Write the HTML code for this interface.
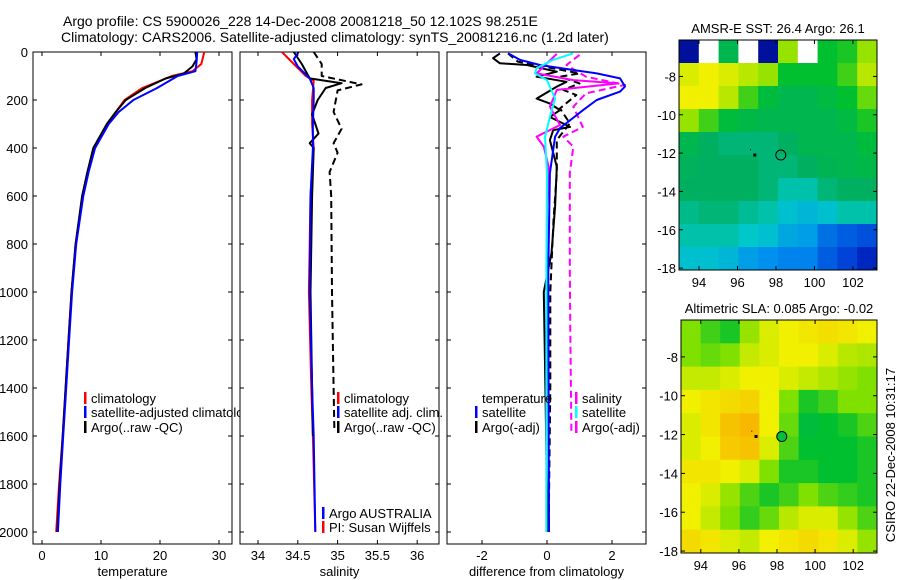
<!DOCTYPE html>
<html><head><meta charset="utf-8"><style>
html,body{margin:0;padding:0;background:#fff;}
svg{display:block;font-family:"Liberation Sans",sans-serif;}
</style></head><body>
<svg id="c" width="900" height="580" viewBox="0 0 900 580" xmlns="http://www.w3.org/2000/svg">
<defs><clipPath id="legclip"><rect x="0" y="0" width="239.5" height="580"/></clipPath></defs>
<text x="63" y="26" font-size="14">Argo profile: CS 5900026_228 14-Dec-2008 20081218_50 12.102S 98.251E</text>
<text x="61" y="42" font-size="14">Climatology: CARS2006. Satellite-adjusted climatology: synTS_20081216.nc (1.2d later)</text>
</svg>
<script>
// ---------- data ----------
const depthTicks=[0,200,400,600,800,1000,1200,1400,1600,1800,2000];
const tTicks=[0,10,20,30];
const sTicks=[34,34.5,35,35.5,36];
const dTicks=[-2,0,2];
const tClimD=[0,50,80,100,150,200,250,300,400,500,600,800,1000,1200,1400,1600,1800,2000];
const tClim=[27.5,27,25.5,22,17,14,12.5,11,8.8,7.8,6.9,5.7,5.0,4.5,4.0,3.5,2.9,2.4];
const tArgoD=[0,30,60,90,110,150,200,250,300,400,500,600,800,1000,1200,1400,1600,1800,2000];
const tArgo=[26.0,26.2,25.5,24,21,17.5,14.2,12.5,11,8.7,7.7,6.8,5.7,5.0,4.5,4.0,3.5,3.0,2.6];
const tSatD=[0,40,80,100,150,200,250,300,400,500,600,800,1000,1200,1400,1600,1800,2000];
const tSat=[26.3,26.2,26,23,19.5,15.5,13,11.3,9,7.9,7.0,5.8,5.1,4.6,4.1,3.6,3.1,2.7];
const sClimD=[0,50,100,120,200,300,400,600,1000,1400,1600,2000];
const sClim=[34.3,34.45,34.6,34.7,34.68,34.68,34.7,34.66,34.64,34.67,34.69,34.72];
const sSatD=[0,30,60,110,150,200,300,400,600,1000,1400,1600,2000];
const sSat=[34.51,34.45,34.5,34.65,34.7,34.7,34.69,34.69,34.66,34.65,34.68,34.7,34.72];
const sArgoD=[0,50,110,130,150,200,260,300,340,380,400,600,1000,1400,1600];
const sArgo=[34.45,34.55,34.65,35.05,34.85,34.75,34.68,34.72,34.76,34.65,34.7,34.68,34.66,34.68,34.69];
const sAdjD=[0,50,100,135,160,250,320,380,420,500,600,1000,1400,1580];
const sAdj=[34.7,34.8,34.8,35.3,35.0,34.95,35.05,34.95,35.0,34.9,34.92,34.93,34.95,34.96];
const dTsatD=[6,33,54,75,89,110,144,165,200,242,275,317,353,408,505,908,1400,2000];
const dTsat=[-1.19,-0.83,-0.22,0.81,1.53,2.25,2.4,2.25,1.53,1.11,0.8,0.4,0.25,0.19,0.09,0.04,0.05,0.06];
const dSsatD=[6,33,68,89,117,194,271,353,505,908,1400,2000];
const dSsat=[0.8,0.18,-0.32,-0.37,0,0.25,0.09,-0.06,0,-0.02,-0.02,-0.02];
const dTargD=[6,26,47,54,82,103,124,144,194,215,242,271,312,326,367,478,644,838,1000,1400,2000];
const dTarg=[-1.45,-1.66,-1.45,-0.62,0.3,-0.32,0.6,0.3,-0.32,0.09,0.4,0.09,0.71,0.19,0.09,0.3,0.25,0.14,-0.1,-0.05,0.02];
const dTadjD=[6,40,89,103,131,158,179,235,297,367,505,700,1000,1400,2000];
const dTadj=[-1.2,-0.9,1.0,0.4,1.0,0.5,0.9,0.4,0.7,0.3,0.3,0.2,0.1,0.1,0.05];
const dSargD=[8,89,117,131,158,228,304,353,394,478,644,1000,1400,2000];
const dSarg=[0.3,-0.32,0.81,2.2,0.3,0.09,0.4,-0.32,-0.1,0.05,0,-0.02,-0.02,-0.02];
const dSadjD=[12,54,103,137,172,228,312,353,394,505,908,1200,1580];
const dSadj=[1.0,0.6,1.2,2.4,1.2,0.81,1.1,0.5,0.81,0.7,0.7,0.72,0.75];
const sstGrid=[
[0.05,-1,0.55,-1,0.05,0.72,-1,0.6,0.62,0.72],
[0.78,0.8,0.78,0.75,0.72,0.6,0.6,0.6,0.65,0.75],
[0.8,0.8,0.75,0.65,0.58,0.55,0.55,0.57,0.6,0.68],
[0.72,0.65,0.58,0.56,0.55,0.55,0.55,0.55,0.57,0.62],
[0.55,0.52,0.5,0.5,0.5,0.52,0.55,0.55,0.55,0.58],
[0.53,0.52,0.52,0.52,0.5,0.5,0.52,0.54,0.55,0.56],
[0.52,0.52,0.52,0.52,0.5,0.45,0.45,0.5,0.52,0.52],
[0.48,0.5,0.5,0.47,0.45,0.4,0.38,0.4,0.45,0.45],
[0.45,0.45,0.45,0.42,0.4,0.35,0.33,0.25,0.22,0.2],
[0.4,0.4,0.38,0.33,0.3,0.28,0.28,0.22,0.18,0.12]];
const slaGrid=[
[0.7,0.65,0.62,0.72,0.78,0.8,0.82,0.83,0.82,0.8],
[0.7,0.68,0.7,0.76,0.78,0.8,0.8,0.78,0.75,0.74],
[0.76,0.76,0.78,0.8,0.8,0.78,0.76,0.74,0.72,0.7],
[0.8,0.82,0.84,0.85,0.8,0.7,0.62,0.65,0.7,0.7],
[0.78,0.82,0.88,0.9,0.8,0.68,0.58,0.6,0.62,0.66],
[0.78,0.8,0.87,0.88,0.78,0.66,0.6,0.6,0.6,0.62],
[0.82,0.82,0.8,0.78,0.7,0.62,0.62,0.6,0.6,0.62],
[0.8,0.78,0.72,0.66,0.62,0.65,0.7,0.66,0.64,0.62],
[0.8,0.76,0.7,0.64,0.68,0.75,0.78,0.78,0.72,0.66],
[0.84,0.82,0.78,0.76,0.8,0.82,0.84,0.82,0.78,0.72]];
const lonTicks=[94,96,98,100,102];
const latTicks=[-8,-10,-12,-14,-16,-18];
const argoLon=98.251, argoLat=-12.102;

// ---------- helpers ----------
const svg=document.getElementById('c');
const NS='http://www.w3.org/2000/svg';
function mk(tag,attrs,parent){const e=document.createElementNS(NS,tag);for(const k in attrs)e.setAttribute(k,attrs[k]);(parent||svg).appendChild(e);return e;}
const yD=d=>52+d*0.24;
const xT=v=>42+v*5.9, xS=v=>258+(v-34)*79.6, xDf=v=>547+v*32.5;
const panels=[{x0:33,x1:232,sx:xT,ticks:tTicks,lab:'temperature',name:'temperature-panel'},
{x0:240,x1:439,sx:xS,ticks:sTicks,lab:'salinity',name:'salinity-panel'},
{x0:447,x1:646,sx:xDf,ticks:dTicks,lab:'difference from climatology',name:'difference-panel'}];
const Y0=52,Y1=544;
function line(p,xs,ds,col,name,dash){
  const pts=xs.map((v,i)=>p.sx(v).toFixed(1)+','+yD(ds[i]).toFixed(1)).join(' ');
  const e=mk('polyline',{points:pts,fill:'none',stroke:col,'stroke-width':2,'stroke-linejoin':'round'},p.g);
  if(dash)e.setAttribute('stroke-dasharray','7,4');
  
  
}
panels.forEach((p,i)=>{
  const g=mk('g',{});
  
  
  p.g=g;
  mk('rect',{x:p.x0,y:Y0,width:p.x1-p.x0,height:Y1-Y0,fill:'#fff',stroke:'#000','stroke-width':1},g);
  const cp=mk('clipPath',{id:'cp'+i},g);
  mk('rect',{x:p.x0,y:Y0,width:p.x1-p.x0,height:Y1-Y0},cp);
  p.lg=mk('g',{'clip-path':'url(#cp'+i+')'},g);
  depthTicks.forEach(d=>{
    mk('line',{x1:p.x0,x2:p.x0+4,y1:yD(d),y2:yD(d),stroke:'#000'},g);
    mk('line',{x1:p.x1,x2:p.x1-4,y1:yD(d),y2:yD(d),stroke:'#000'},g);
    if(i===0){const t=mk('text',{x:28,y:yD(d)+5,'font-size':13,'text-anchor':'end'},g);t.textContent=d;
      
      }
  });
  p.ticks.forEach(v=>{
    const x=p.sx(v);
    mk('line',{x1:x,x2:x,y1:Y0,y2:Y0+4,stroke:'#000'},g);
    mk('line',{x1:x,x2:x,y1:Y1,y2:Y1-4,stroke:'#000'},g);
    const t=mk('text',{x:x,y:560,'font-size':13,'text-anchor':'middle'},g);t.textContent=v;
    
    
  });
  const t=mk('text',{x:(p.x0+p.x1)/2,y:576,'font-size':13,'text-anchor':'middle'},g);t.textContent=p.lab;
  
  
});
const P1={sx:xT,g:panels[0].lg},P2={sx:xS,g:panels[1].lg},P3={sx:xDf,g:panels[2].lg};
line(P1,tClim,tClimD,'#ff0000','temp-climatology-line');
line(P1,tArgo,tArgoD,'#000','temp-argo-line');
line(P1,tSat,tSatD,'#0000ff','temp-satellite-line');
line(P2,sClim,sClimD,'#ff0000','sal-climatology-line');
line(P2,sAdj,sAdjD,'#000','sal-argo-adj-line',true);
line(P2,sArgo,sArgoD,'#000','sal-argo-line');
line(P2,sSat,sSatD,'#0000ff','sal-satellite-line');
line(P3,dTadj,dTadjD,'#000','diff-temp-argo-adj-line',true);
line(P3,dTarg,dTargD,'#000','diff-temp-argo-line');
line(P3,dSadj,dSadjD,'#ff00ff','diff-sal-argo-adj-line',true);
line(P3,dSarg,dSargD,'#ff00ff','diff-sal-argo-line');
line(P3,dTsat,dTsatD,'#0000ff','diff-temp-satellite-line');
line(P3,dSsat,dSsatD,'#00ffff','diff-sal-satellite-line');
// legends
function leg(x,y,col,txt,name,parent){
  if(col){mk('rect',{x:x,y:y-11,width:2.5,height:12,fill:col},parent);}
  const t=mk('text',{x:x+7,y:y,'font-size':13},parent);t.textContent=txt;
  
  
}
const lg1=mk('g',{'clip-path':'url(#legclip)'});
leg(84,403,'#ff0000','climatology','legend-climatology',lg1);
leg(84,417,'#0000ff','satellite-adjusted climatology','legend-satellite-adjusted',lg1);
leg(84,432,'#000','Argo(..raw -QC)','legend-argo-raw',lg1);
leg(337,403,'#ff0000','climatology','legend2-climatology');
leg(337,417,'#0000ff','satellite adj. clim.','legend2-satellite-adj');
leg(337,432,'#000','Argo(..raw -QC)','legend2-argo-raw');
leg(322,518,'','Argo AUSTRALIA','argo-australia-label');
leg(322,532,'','PI: Susan Wijffels','pi-label');
mk('rect',{x:322,y:507,width:2.5,height:12,fill:'#0000ff'});
mk('rect',{x:322,y:521,width:2.5,height:12,fill:'#ff0000'});
leg(475,403,'','temperature','legend3-temperature');
leg(475,417,'#0000ff','satellite','legend3-temp-satellite');
leg(475,432,'#000','Argo(-adj)','legend3-temp-argo');
leg(575,403,'#ff00ff','salinity','legend3-salinity');
leg(575,417,'#00ffff','satellite','legend3-sal-satellite');
leg(575,432,'#ff00ff','Argo(-adj)','legend3-sal-argo');

// ---------- maps ----------
const stops=[[0,[0,0,128]],[0.15,[0,48,208]],[0.3,[0,144,240]],[0.42,[0,200,200]],[0.52,[0,176,96]],[0.6,[0,192,48]],[0.7,[128,224,0]],[0.8,[240,240,0]],[0.9,[248,184,0]],[1,[240,128,0]]];
function cmap(v){if(v<0)return '#fff';for(let i=1;i<stops.length;i++){if(v<=stops[i][0]){const a=stops[i-1],b=stops[i],f=(v-a[0])/(b[0]-a[0]);const c=a[1].map((q,k)=>Math.round(q+(b[1][k]-q)*f));return 'rgb('+c.join(',')+')';}}return 'rgb(240,128,0)';}
const LON0=92.96,LON1=103.25,LAT0=-6.1,LAT1=-18.1;
function drawMap(grid,X0,X1,T0,T1,title,name,dotFill){
  const g=mk('g',{});
  
  
  const mx=lon=>X0+(lon-LON0)/(LON1-LON0)*(X1-X0);
  const my=lat=>T0+(lat-LAT0)/(LAT1-LAT0)*(T1-T0);
  const nr=grid.length,nc=grid[0].length;
  const dlon=(LON1-LON0)/nc,dlat=(LAT1-LAT0)/nr;
  grid.forEach((row,r)=>row.forEach((v,c)=>{
    const x=mx(LON0+c*dlon),y=my(LAT0+r*dlat);
    const e=mk('rect',{x:x,y:y,width:mx(LON0+(c+1)*dlon)-x+0.5,height:my(LAT0+(r+1)*dlat)-y+0.5,fill:cmap(v)},g);
    
    
  }));
  mk('rect',{x:X0,y:T0,width:X1-X0,height:T1-T0,fill:'none',stroke:'#000'},g);
  lonTicks.forEach(l=>{const x=mx(l);
    mk('line',{x1:x,x2:x,y1:T0,y2:T0+4,stroke:'#000'},g);
    mk('line',{x1:x,x2:x,y1:T1,y2:T1-4,stroke:'#000'},g);
    const t=mk('text',{x:x,y:T1+17,'font-size':13,'text-anchor':'middle'},g);t.textContent=l;
    
    });
  latTicks.forEach(l=>{const y=my(l);
    mk('line',{x1:X0,x2:X0+4,y1:y,y2:y,stroke:'#000'},g);
    mk('line',{x1:X1,x2:X1-4,y1:y,y2:y,stroke:'#000'},g);
    const t=mk('text',{x:X0-3,y:y+5,'font-size':13,'text-anchor':'end'},g);t.textContent=l;
    
    });
  const ci=mk('circle',{cx:mx(argoLon),cy:my(argoLat),r:5,fill:dotFill,stroke:'#000'},g);
  
  
  mk('rect',{x:mx(96.9)-1.5,y:my(-12.1)-1.5,width:3,height:3,fill:'#000'},g);
  mk('rect',{x:mx(96.65),y:my(-11.8),width:1,height:1,fill:'#000'},g);
  const t=mk('text',{x:(X0+X1)/2,y:T0-7,'font-size':13,'text-anchor':'middle'},g);t.textContent=title;
  
  
}
drawMap(sstGrid,679,877,40,270,'AMSR-E SST: 26.4 Argo: 26.1','sst-map','none');
drawMap(slaGrid,681,877,320,553,'Altimetric SLA: 0.085 Argo: -0.02','sla-map','#00c040');
const ct=mk('text',{x:0,y:0,'font-size':13,'text-anchor':'middle',transform:'translate(895,455) rotate(-90)'});
ct.textContent='CSIRO 22-Dec-2008 10:31:17';


</script>
</body></html>
